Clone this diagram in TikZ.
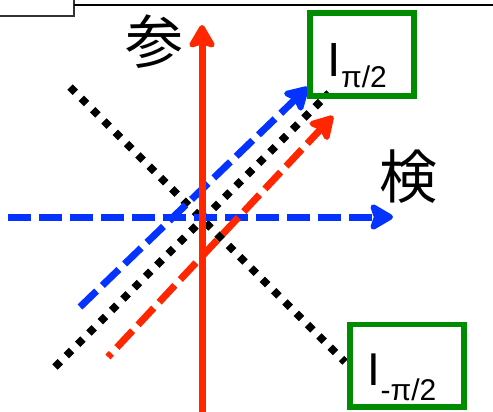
\documentclass[tikz,border=0pt]{standalone}
\usepackage{fontspec}
\setmainfont{Liberation Sans}
\newfontfamily\cjk{Noto Sans CJK JP}
\usetikzlibrary{arrows.meta}

\definecolor{axred}{RGB}{255,38,0}
\definecolor{axblue}{RGB}{4,51,255}
\definecolor{boxgreen}{RGB}{0,140,0}

\tikzset{
  bigtip/.tip={Stealth[length=27pt,width=31pt,inset=5pt,round]},
  solidaxis/.style={line width=7pt, axred, -bigtip},
  dashaxis/.style={line width=7pt, dash pattern=on 23pt off 8pt, -bigtip},
  dotline/.style={line width=7.5pt, black, dash pattern=on 7.5pt off 8.5pt},
  greenbox/.style={draw=boxgreen, line width=5.5pt, inner sep=0pt},
  cjklabel/.style={font=\cjk\fontsize{58}{58}\selectfont, inner sep=0pt},
  mainsym/.style={anchor=base west, inner sep=0pt},
}

\begin{document}
\begin{tikzpicture}[x=1pt, y=-1pt]
\useasboundingbox (0,0) rectangle (493,412);

% tab box at the upper left and the rule running to the right
\coordinate (tabA) at (-10,-10);
\coordinate (tabB) at (74,16);
\coordinate (ruleA) at (74,5);
\coordinate (ruleB) at (500,5);
\draw[line width=1.3pt, black!80] (tabA) rectangle (tabB);
\draw[line width=1.5pt] (ruleA) -- (ruleB);

% end points of the lines
\coordinate (vbot) at (202,416);
\coordinate (vtop) at (202,25);
\coordinate (hleft) at (8,217);
\coordinate (hright) at (393,217);
\coordinate (bdA) at (80,307);
\coordinate (bdB) at (308,87);
\coordinate (rdA) at (108,357);
\coordinate (rdB) at (333,116);
\coordinate (d1A) at (55,367);
\coordinate (d1B) at (329,93);
\coordinate (d2A) at (70,87);
\coordinate (d2B) at (345,362);

% dotted black diagonals
\draw[dotline] (d1A) -- (d1B);
\draw[dotline] (d2A) -- (d2B);

% dashed arrows
\draw[dashaxis, axblue] (hleft) -- (hright);
\draw[dashaxis, axblue] (bdA) -- (bdB);
\draw[dashaxis, axred, dash phase=18pt] (rdA) -- (rdB);

% solid vertical arrow
\draw[solidaxis] (vbot) -- (vtop);

% axis labels
\node[cjklabel] (ref) at (154,42) {参};
\node[cjklabel] (det) at (408,177) {検};

% green boxes
\node[greenbox, minimum width=104pt, minimum height=83pt] (boxtop) at (362,54.75) {};
\node[greenbox, minimum width=114pt, minimum height=82.5pt] (boxbot) at (407,365.75) {};

% labels in the boxes
\node[mainsym, font=\fontsize{48}{48}\selectfont] (itop) at (327,77) {I};
\node[mainsym, font=\fontsize{30}{30}\selectfont] (stop) at (341,88) {π/2};
\node[mainsym, font=\fontsize{46}{46}\selectfont] (ibot) at (367,385) {I};
\node[mainsym, font=\fontsize{30}{30}\selectfont] (sbot) at (380.5,400) {-π/2};
\end{tikzpicture}
\end{document}
